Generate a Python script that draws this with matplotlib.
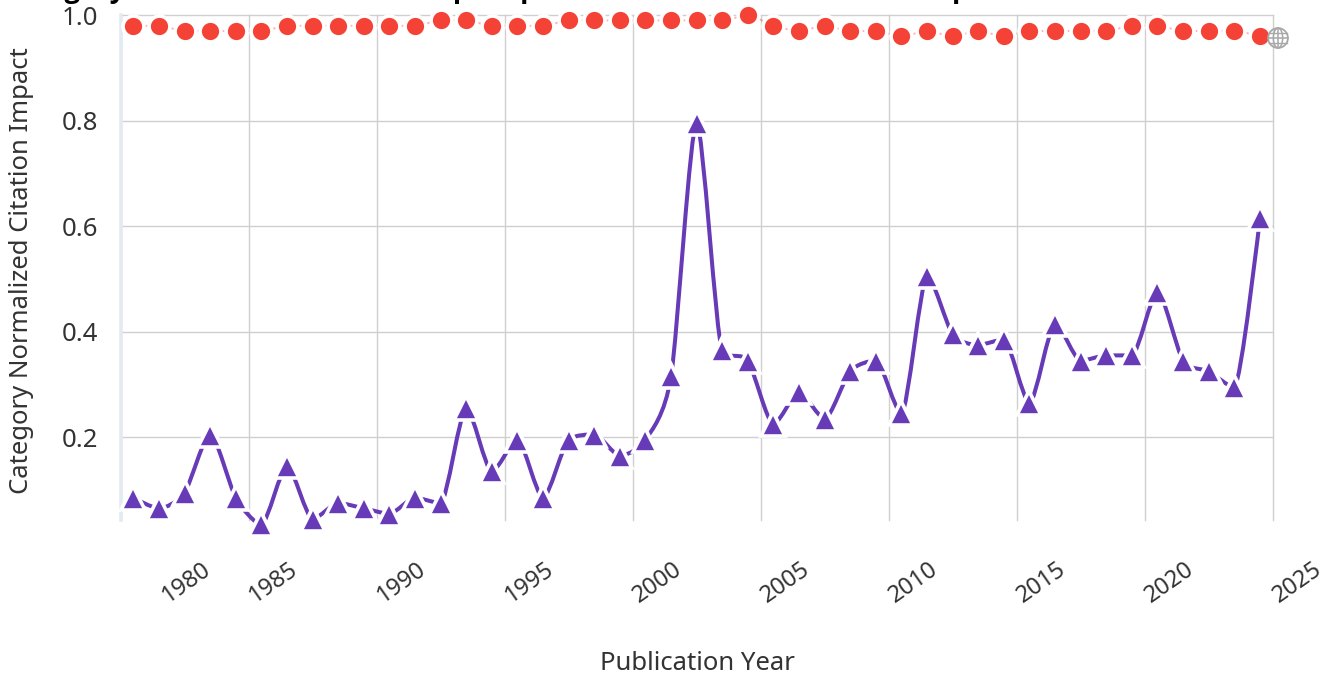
import matplotlib
matplotlib.use("Agg")
import matplotlib.pyplot as plt
import numpy as np
from matplotlib.path import Path
from matplotlib.patches import PathPatch, Ellipse
from matplotlib.transforms import ScaledTranslation

years = list(range(1980, 2025))
group_a = [0.085,0.065,0.095,0.205,0.085,0.035,0.145,0.045,0.075,0.065,0.055,0.085,0.075,0.255,0.135,
           0.195,0.085,0.195,0.205,0.165,0.195,0.315,0.795,0.365,0.345,0.225,0.285,0.235,0.325,0.345,
           0.245,0.505,0.395,0.375,0.385,0.265,0.415,0.345,0.355,0.355,0.475,0.345,0.325,0.295,0.615]
group_b = [0.98,0.98,0.97,0.97,0.97,0.97,0.98,0.98,0.98,0.98,0.98,0.98,0.99,0.99,0.98,
           0.98,0.98,0.99,0.99,0.99,0.99,0.99,0.99,0.99,1.00,0.98,0.97,0.98,0.97,0.97,
           0.96,0.97,0.96,0.97,0.96,0.97,0.97,0.97,0.97,0.98,0.98,0.97,0.97,0.97,0.96]
tick_years = [1980,1985,1990,1995,2000,2005,2010,2015,2020,2025]
y_ticks = [0.2,0.4,0.6,0.8,1.0]
title = "Category Normalized Citation Impact per Publication Year Trend Comparison"
xlabel = "Publication Year"
ylabel = "Category Normalized Citation Impact"

W, H = 1339, 682
PURPLE, RED, TEXT, GRID = "#673AB7", "#F44336", "#333333", "#cfcfcf"
plt.rcParams["font.family"] = ["Noto Sans", "DejaVu Sans"]

def spline(xs, ys, s=3.0):
    """Spline through the points, with short control handles."""
    n = len(xs)
    lc, rc = [None]*n, [None]*n
    for i in range(1, n-1):
        d = s + 1
        lx, ly = (s*xs[i]+xs[i-1])/d, (s*ys[i]+ys[i-1])/d
        rx, ry = (s*xs[i]+xs[i+1])/d, (s*ys[i]+ys[i+1])/d
        c = (ry-ly)*(rx-xs[i])/(rx-lx) + ys[i] - ry
        ly += c; ry += c
        if ly > ys[i-1] and ly > ys[i]:
            ly = max(ys[i-1], ys[i]); ry = 2*ys[i]-ly
        elif ly < ys[i-1] and ly < ys[i]:
            ly = min(ys[i-1], ys[i]); ry = 2*ys[i]-ly
        if ry > ys[i+1] and ry > ys[i]:
            ry = max(ys[i+1], ys[i]); ly = 2*ys[i]-ry
        elif ry < ys[i+1] and ry < ys[i]:
            ry = min(ys[i+1], ys[i]); ly = 2*ys[i]-ry
        lc[i], rc[i] = (lx, ly), (rx, ry)
    lc[n-1] = (xs[-1], ys[-1]); rc[0] = (xs[0], ys[0])
    verts, codes = [(xs[0], ys[0])], [Path.MOVETO]
    for i in range(1, n):
        verts += [rc[i-1], lc[i], (xs[i], ys[i])]
        codes += [Path.CURVE4]*3
    return Path(verts, codes)

fig = plt.figure(figsize=(W/100, H/100), dpi=100)
ax = fig.add_axes([120.6/W, 1-519.7/H, (1272.7-120.6)/W, (519.7-15.2)/H])
ax.set_xlim(1980, 2025)
ax.set_ylim(0.0435, 1.0)
for sp in ax.spines.values():
    sp.set_visible(False)
ax.axvline(1980, color="#e3ebf2", lw=2.6, zorder=1, clip_on=False)
ax.grid(True, color=GRID, lw=1.0, zorder=0, clip_on=False)
ax.set_axisbelow(True)
ax.set_yticks(y_ticks, [f"{v:.1f}" for v in y_ticks], fontsize=18.5, color=TEXT)
ax.set_xticks(tick_years, [str(y) for y in tick_years], fontsize=17, color=TEXT,
              rotation=35, ha="center", va="center", rotation_mode="anchor")
ax.tick_params(length=0, pad=0)
ax.tick_params(axis="y", pad=16)
for lab, yr in zip(ax.get_xticklabels(), tick_years):
    dx = 66 if yr == 1980 else 25
    lab.set_transform(lab.get_transform() + ScaledTranslation(dx/100, -63/100, fig.dpi_scale_trans))

xs = np.array(years, float) + 0.5
for vals, col, marker, ms, lw, al, z in [(group_a, PURPLE, "^", 17.0, 2.9, 1.0, 3),
                                         (group_b, RED, "o", 15.0, 1.4, 0.4, 5)]:
    ax.add_patch(PathPatch(spline(xs, np.array(vals)), fc="none", ec=col, lw=lw, alpha=al,
                           zorder=z, clip_on=False, capstyle="butt"))
    ax.plot(xs, vals, ls="none", marker=marker, ms=ms, mfc=col, mec="white", mew=2.6,
            zorder=z+1, clip_on=False)

fig.text(697/W, 1-663/H, xlabel, fontsize=18.5, color=TEXT, ha="center", va="center")
fig.text(22/W, 1-271/H, ylabel, fontsize=18.5, color=TEXT, ha="center", va="center", rotation=90)
fig.text(2/W, 1+2.5/H, title, fontsize=19.8, fontweight="bold", color="black", ha="left", va="baseline",
         family=["Open Sans", "DejaVu Sans"])

# globe icon
iax = fig.add_axes([1267/W, 1-49/H, 22/W, 22/H])
iax.set_xlim(-1, 1); iax.set_ylim(-1, 1); iax.axis("off")
c = "#a8a8a8"
iax.add_patch(Ellipse((0, 0), 1.8, 1.8, fc="none", ec=c, lw=1.3))
iax.add_patch(Ellipse((0, 0), 0.85, 1.8, fc="none", ec=c, lw=1.1))
iax.plot([0, 0], [-0.9, 0.9], color=c, lw=1.1)
iax.plot([-0.9, 0.9], [0, 0], color=c, lw=1.1)
iax.plot([-0.78, 0.78], [0.45, 0.45], color=c, lw=1.0)
iax.plot([-0.78, 0.78], [-0.45, -0.45], color=c, lw=1.0)

fig.savefig("out.png", dpi=100)
